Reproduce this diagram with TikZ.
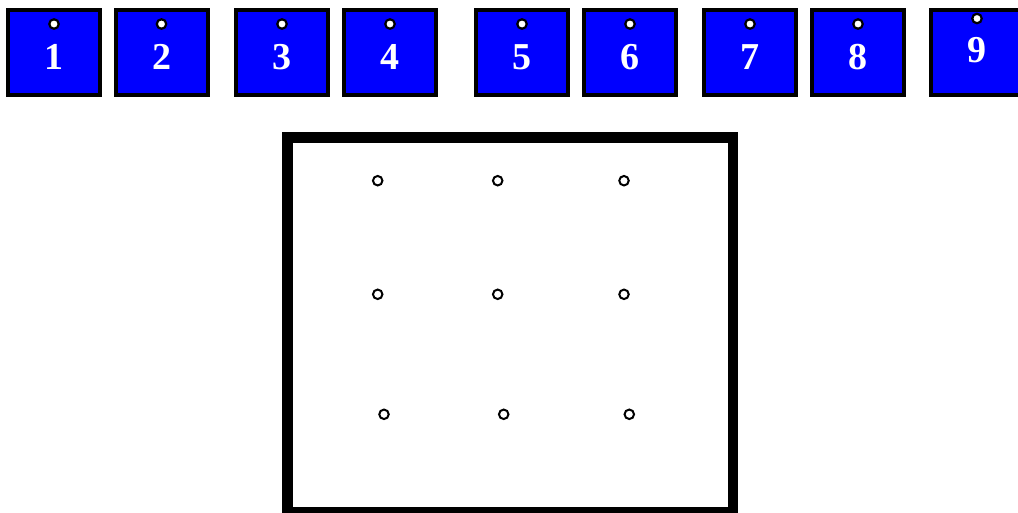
\documentclass[tikz,border=0pt]{standalone}
\usepackage{fontspec}
\setmainfont{Liberation Serif}
\begin{document}
\begin{tikzpicture}[x=1pt,y=-1pt,
  tile/.style={draw=black,fill=blue,line width=4pt,minimum width=92pt,minimum height=85pt,inner sep=0pt},
  hole/.style={circle,draw=black,fill=white,line width=2.2pt,minimum size=9.5pt,inner sep=0pt},
  num/.style={text=white,font=\fontsize{38}{38}\selectfont\bfseries,anchor=base,inner sep=0pt},
  board/.style={draw=black,line width=10.5pt}]
\useasboundingbox (0,0) rectangle (1018,512);
\foreach \i/\x in {1/54,2/161.5,3/282,4/390,5/522,6/630,7/750,8/858}{
  \node[tile] (t\i) at (\x,52.5) {};
  \node[hole] (h\i) at (\x,24) {};
  \node[num] (n\i) at (\x,69) {\i};
}
\node[tile] (t9) at (977,52.5) {};
\node[hole] (h9) at (977,18.5) {};
\node[num] (n9) at (977,62.5) {9};
\draw[board] (287.5,137.5) rectangle (733,512.5);
\foreach \r/\y/\xa/\xb/\xc in {1/180.7/377.7/497.7/624, 2/294.3/377.7/497.7/624, 3/414.3/384/503.7/629.3}{
  \node[hole,line width=2pt] (p\r a) at (\xa,\y) {};
  \node[hole,line width=2pt] (p\r b) at (\xb,\y) {};
  \node[hole,line width=2pt] (p\r c) at (\xc,\y) {};
}
\end{tikzpicture}
\end{document}
